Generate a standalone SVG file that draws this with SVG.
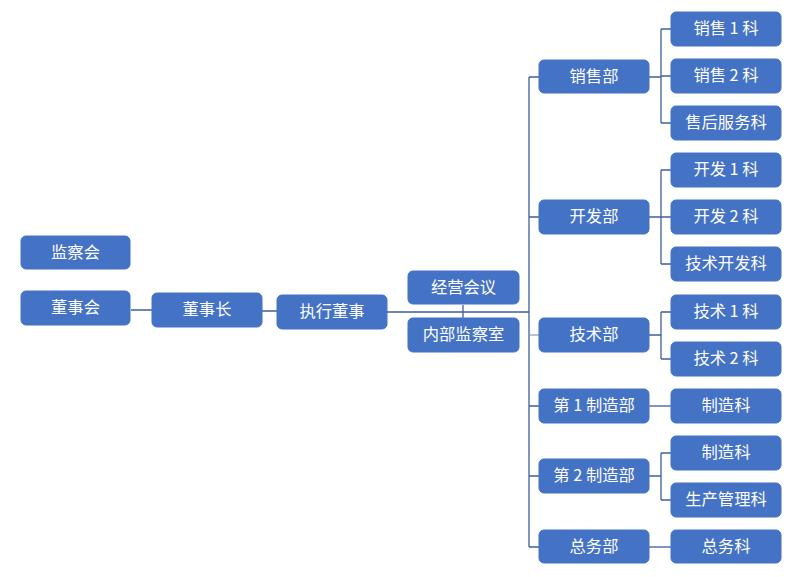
<svg xmlns="http://www.w3.org/2000/svg" width="799" height="577" viewBox="0 0 799 577">
<style>
.b{fill:#4472C4;stroke:#4472C4;stroke-width:1}
.t{fill:#fff;font-family:"Noto Sans CJK SC","Noto Sans",sans-serif;font-size:16.3px;text-anchor:middle}
.c{fill:none;stroke:#3F5F9C;stroke-width:1.3}
.l{fill:none;stroke:#8EA0BE;stroke-width:1.3}
</style>
<rect width="799" height="577" fill="#fff"/>
<g id="connectors">
<path class="c" d="M131 310H152M262 311H277M387 312H529M463 305V318"/>
<path class="c" d="M529 77V547M529 77H539M529 217H539M529 406H539M529 476H539M529 547H539"/>
<path class="l" d="M529 335H539"/>
<path class="c" d="M649 77H661M661 29V123M661 29H671M661 76H671M661 123H671"/>
<path class="c" d="M649 217H661M661 170V264M661 170H671M661 217H671M661 264H671"/>
<path class="c" d="M649 335H661M661 312V359M661 312H671M661 359H671"/>
<path class="c" d="M649 406H671"/>
<path class="c" d="M649 476H661M661 453V500M661 453H671M661 500H671"/>
<path class="c" d="M649 547H671"/>
</g>
<g id="n_jianchahui"><rect class="b" x="21" y="236" width="109" height="33" rx="5"/><text class="t" x="75.5" y="257.5">监察会</text></g>
<g id="n_dongshihui"><rect class="b" x="21" y="291" width="109" height="34" rx="5"/><text class="t" x="75.5" y="313">董事会</text></g>
<g id="n_dongshizhang"><rect class="b" x="152" y="293" width="110" height="34" rx="5"/><text class="t" x="207" y="315">董事长</text></g>
<g id="n_zhixing"><rect class="b" x="277" y="295" width="110" height="34" rx="5"/><text class="t" x="332" y="317">执行董事</text></g>
<g id="n_jingying"><rect class="b" x="408" y="271" width="111" height="33" rx="5"/><text class="t" x="463.5" y="292.5">经营会议</text></g>
<g id="n_neibu"><rect class="b" x="408" y="318" width="111" height="34" rx="5"/><text class="t" x="463.5" y="340">内部监察室</text></g>
<g id="d_xiaoshou"><rect class="b" x="539" y="60" width="110" height="33" rx="5"/><text class="t" x="594" y="81.5">销售部</text></g>
<g id="d_kaifa"><rect class="b" x="539" y="200" width="110" height="34" rx="5"/><text class="t" x="594" y="222">开发部</text></g>
<g id="d_jishu"><rect class="b" x="539" y="318" width="110" height="34" rx="5"/><text class="t" x="594" y="340">技术部</text></g>
<g id="d_zhizao1"><rect class="b" x="539" y="389" width="110" height="34" rx="5"/><text class="t" x="594" y="411">第 1 制造部</text></g>
<g id="d_zhizao2"><rect class="b" x="539" y="459" width="110" height="34" rx="5"/><text class="t" x="594" y="481">第 2 制造部</text></g>
<g id="d_zongwu"><rect class="b" x="539" y="530" width="110" height="33" rx="5"/><text class="t" x="594" y="551.5">总务部</text></g>
<g id="s_xs1"><rect class="b" x="671" y="12" width="110" height="34" rx="5"/><text class="t" x="726" y="34">销售 1 科</text></g>
<g id="s_xs2"><rect class="b" x="671" y="59" width="110" height="34" rx="5"/><text class="t" x="726" y="81">销售 2 科</text></g>
<g id="s_shouhou"><rect class="b" x="671" y="106" width="110" height="34" rx="5"/><text class="t" x="726" y="128">售后服务科</text></g>
<g id="s_kf1"><rect class="b" x="671" y="153" width="110" height="34" rx="5"/><text class="t" x="726" y="175">开发 1 科</text></g>
<g id="s_kf2"><rect class="b" x="671" y="200" width="110" height="34" rx="5"/><text class="t" x="726" y="222">开发 2 科</text></g>
<g id="s_jskf"><rect class="b" x="671" y="247" width="110" height="34" rx="5"/><text class="t" x="726" y="269">技术开发科</text></g>
<g id="s_js1"><rect class="b" x="671" y="295" width="110" height="34" rx="5"/><text class="t" x="726" y="317">技术 1 科</text></g>
<g id="s_js2"><rect class="b" x="671" y="342" width="110" height="34" rx="5"/><text class="t" x="726" y="364">技术 2 科</text></g>
<g id="s_zz1"><rect class="b" x="671" y="389" width="110" height="34" rx="5"/><text class="t" x="726" y="411">制造科</text></g>
<g id="s_zz2"><rect class="b" x="671" y="436" width="110" height="34" rx="5"/><text class="t" x="726" y="458">制造科</text></g>
<g id="s_scgl"><rect class="b" x="671" y="483" width="110" height="34" rx="5"/><text class="t" x="726" y="505">生产管理科</text></g>
<g id="s_zongwu"><rect class="b" x="671" y="530" width="110" height="33" rx="5"/><text class="t" x="726" y="551.5">总务科</text></g>
</svg>
